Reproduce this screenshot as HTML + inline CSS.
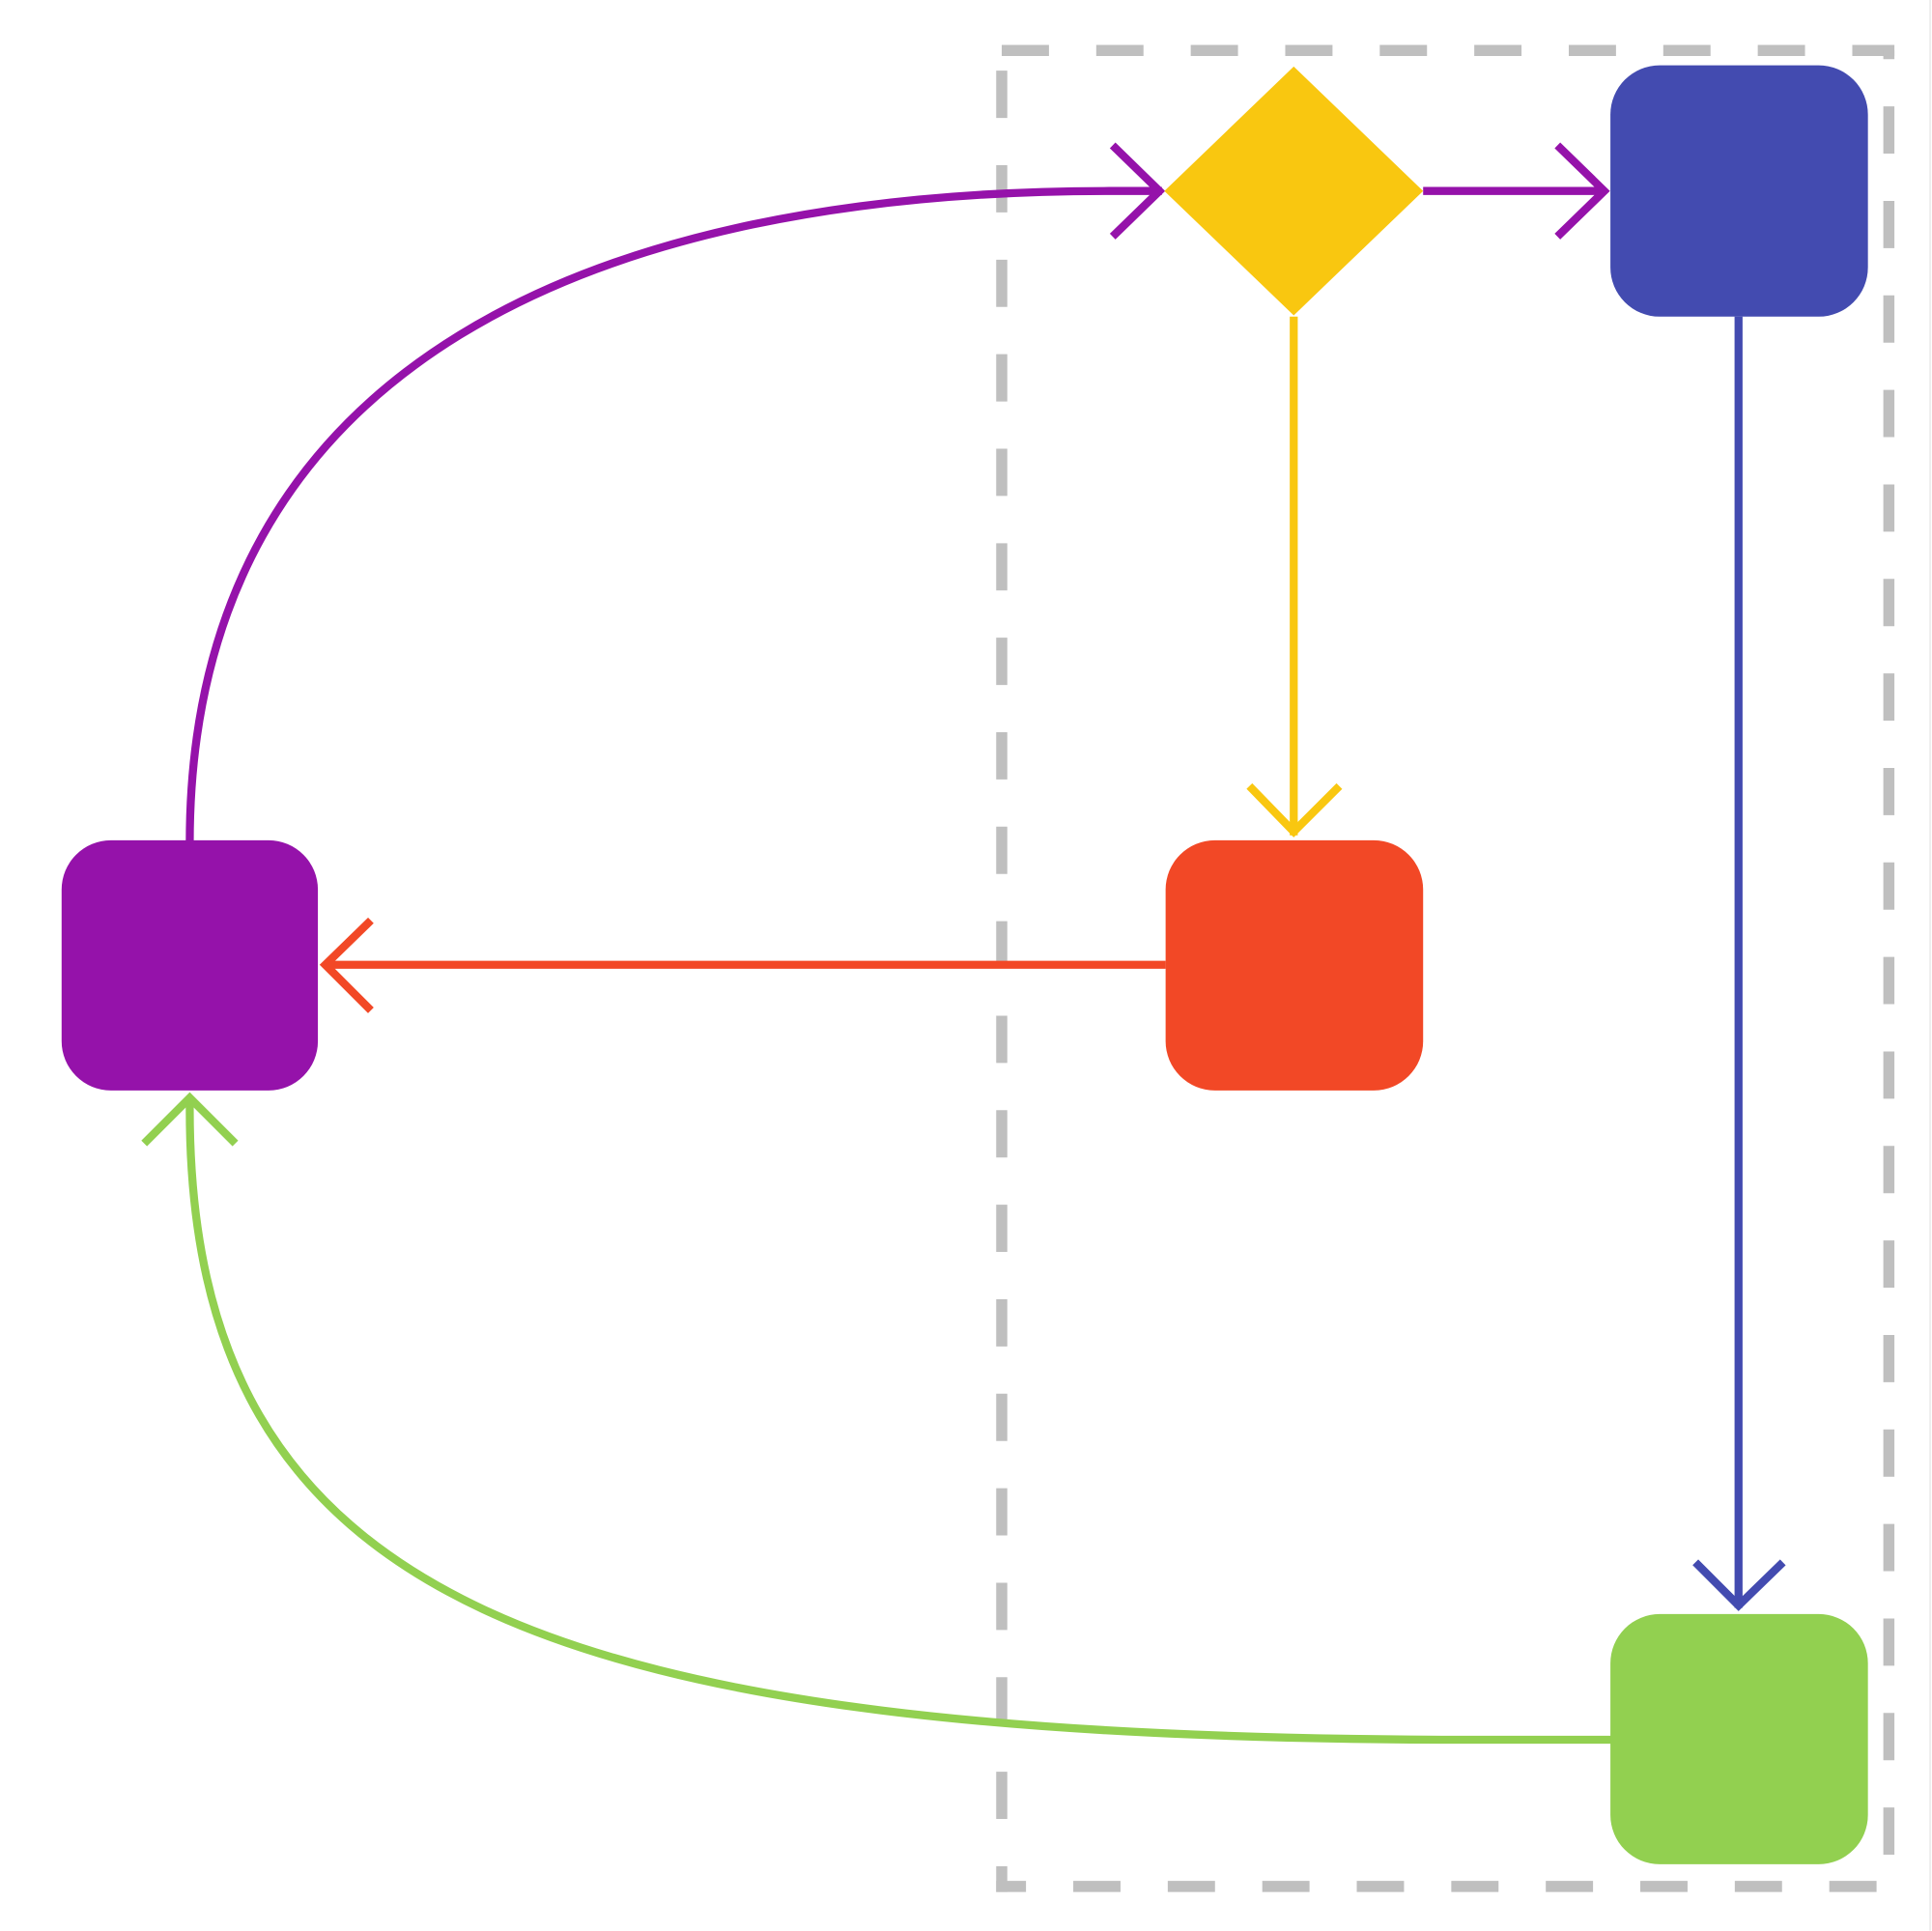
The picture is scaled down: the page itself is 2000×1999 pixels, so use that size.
<!DOCTYPE html>
<html><head><style>html,body{margin:0;padding:0;background:#fff}svg{display:block}</style></head>
<body>
<svg width="2000" height="1999" viewBox="0 0 1568 1567.2" preserveAspectRatio="none" xmlns="http://www.w3.org/2000/svg">
<g fill="none" stroke="#bfbfbf" stroke-width="9" stroke-dasharray="38.35 38.35">
<path d="M813,41 H1537.5"/>
<path d="M1533,41 V1531" stroke-dashoffset="31.35"/>
<path d="M1533,1531 H808.5" stroke-dashoffset="66.7"/>
<path d="M813,1535.5 V41" stroke-dashoffset="17.5"/>
</g>
<line x1="1566.5" y1="0" x2="1566.5" y2="1567" stroke="#eeeeee" stroke-width="1.5"/>
<g fill="none" stroke-width="6.5">
<path d="M154,684 C154,290 490,155 900,155 L943,155" stroke="#9512aa"/>
<polyline points="903,118 941,155 903,192" stroke="#9512aa"/>
<line x1="1155" y1="155" x2="1303" y2="155" stroke="#9512aa"/>
<polyline points="1264,118 1302,155 1264,192" stroke="#9512aa"/>
<line x1="1050" y1="257" x2="1050" y2="678" stroke="#f9c710"/>
<polyline points="1014,638 1050,675 1087,638" stroke="#f9c710"/>
<line x1="1411" y1="257" x2="1411" y2="1305" stroke="#434bb0"/>
<polyline points="1376,1268 1411,1303 1447,1268" stroke="#434bb0"/>
<line x1="946" y1="783" x2="263" y2="783" stroke="#f24826"/>
<polyline points="301,747 264,783 301,820" stroke="#f24826"/>
<path d="M1308,1412 L1200,1412 C440,1412 154,1300 154,900 L154,890" stroke="#92d050"/>
<polyline points="117,928 154,891 191,928" stroke="#92d050"/>
</g>
<polygon points="1050,54 1155,155 1050,256 945,155" fill="#f9c710"/>
<rect x="1307" y="53" width="209" height="204" rx="40" fill="#434bb0"/>
<rect x="946" y="682" width="209" height="203" rx="40" fill="#f24826"/>
<rect x="50" y="682" width="208" height="203" rx="40" fill="#9512aa"/>
<rect x="1307" y="1310" width="209" height="203" rx="40" fill="#92d050"/>
</svg>
</body></html>
